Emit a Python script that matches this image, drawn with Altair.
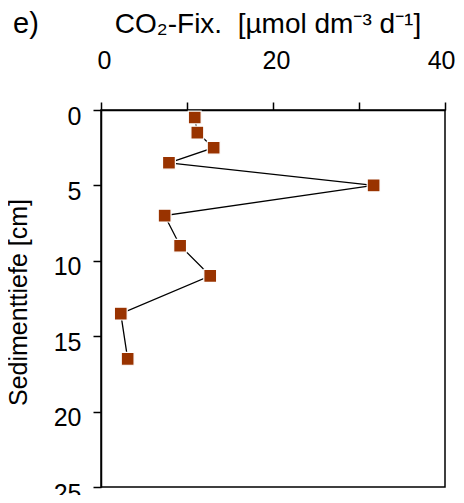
import altair as alt
import pandas as pd

depth_cm = [0.5, 1.5, 2.5, 3.5, 5.0, 7.0, 9.0, 11.0, 13.5, 16.5]
co2_fix = [10.9, 11.2, 13.1, 7.9, 31.7, 7.4, 9.2, 12.7, 2.3, 3.1]

x_ticks = [0, 10, 20, 30, 40]
y_ticks = [0, 5, 10, 15, 20, 25]

title_text = "CO\u2082-Fix.\u00a0 [\u00b5mol dm\u207b\u00b3 d\u207b\u00b9]"
panel_text = "e)"
y_title = "Sedimenttiefe [cm]"

FONT = "Liberation Sans"

df = pd.DataFrame({"depth": depth_cm, "co2": co2_fix})

x_enc = alt.X(
    "co2:Q",
    scale=alt.Scale(domain=[0, 40], nice=False, zero=False),
    axis=alt.Axis(
        orient="top",
        values=x_ticks,
        labelExpr="datum.value % 20 == 0 ? datum.label : ''",
        title=None,
        grid=False,
        tickSize=8,
        tickColor="black",
        tickWidth=1.5,
        domainColor="black",
        domainWidth=1.5,
        labelFont=FONT,
        labelFontSize=25,
        labelColor="black",
        labelPadding=34,
        labelBaseline="alphabetic",
        labelAlign=alt.condition("datum.value == 40", alt.value("right"), alt.value("center")),
        labelOffset=alt.condition("datum.value == 40", alt.value(10), alt.value(3)),
        labelFlush=False,
    ),
)
y_enc = alt.Y(
    "depth:Q",
    scale=alt.Scale(domain=[0, 25], reverse=True, nice=False, zero=False),
    axis=alt.Axis(
        values=y_ticks,
        title=y_title,
        titleFont=FONT,
        titleFontSize=25,
        titleFontWeight="normal",
        titleColor="black",
        titleX=-75,
        titleY=192,
        titleBaseline="alphabetic",
        grid=False,
        tickSize=8,
        tickColor="black",
        tickWidth=1.5,
        domainColor="black",
        domainWidth=1.5,
        labelFont=FONT,
        labelFontSize=25,
        labelColor="black",
        labelPadding=12,
        labelOffset=6,
        labelFlush=False,
    ),
)

line = alt.Chart(df).mark_line(color="black", strokeWidth=1.3).encode(
    x=x_enc, y=y_enc, order=alt.Order("depth:Q")
)
points = alt.Chart(df).mark_square(
    size=165, color="#993300", opacity=1, stroke="white", strokeWidth=1.2
).encode(x=x_enc, y=y_enc)

title_mark = alt.Chart(pd.DataFrame({"t": [title_text]})).mark_text(
    font=FONT, fontSize=28, color="black", align="center", baseline="alphabetic"
).encode(text="t:N", x=alt.value(167), y=alt.value(-77))

panel_mark = alt.Chart(pd.DataFrame({"t": [panel_text]})).mark_text(
    font=FONT, fontSize=29, color="black", align="left", baseline="alphabetic"
).encode(text="t:N", x=alt.value(-88), y=alt.value(-77))

chart = (
    alt.layer(line, points, title_mark, panel_mark)
    .properties(
        width=344,
        height=377,
        autosize=alt.AutoSizeParams(type="none"),
        padding={"left": 93, "top": 102, "right": 11, "bottom": 8},
    )
    .configure_view(stroke="black", strokeWidth=1.5)
)

chart.save("out.html", embed_options={"renderer": "svg", "actions": False})
